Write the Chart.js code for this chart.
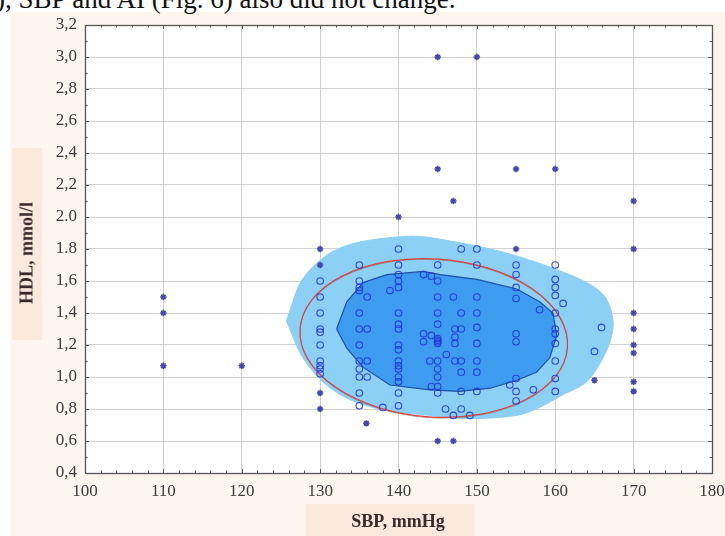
<!DOCTYPE html>
<html>
<head>
<meta charset="utf-8">
<script src="https://cdn.jsdelivr.net/npm/chart.js@4.4.0/dist/chart.umd.min.js"></script>
<style>
  html, body { margin: 0; padding: 0; background: #ffffff; }
  #page { position: relative; width: 725px; height: 536px; overflow: hidden; background: #ffffff; }
  #figure { position: absolute; left: 10px; top: 12px; width: 715px; height: 524px; background: #fdf6ef; }
  #ybox { position: absolute; left: 12px; top: 148px; width: 30px; height: 192px; background: #fce9de; }
  #xbox { position: absolute; left: 306px; top: 504px; width: 168px; height: 32px; background: #fce9de; }
  #topText { position: absolute; left: -4px; top: -16px; font: 27px "Liberation Serif", serif; line-height: 31px; color: #111; white-space: nowrap; }
  #chartWrap { position: absolute; left: 0; top: 0; width: 725px; height: 536px; }
  .axisTitle { position: absolute; font: bold 18px "Liberation Serif", serif; color: #3a2a2a; white-space: nowrap; }
  #yTitle { left: 27px; top: 253px; transform: translate(-50%, -50%) rotate(-90deg); }
  #xTitle { left: 398px; top: 521px; transform: translate(-50%, -50%); }
</style>
</head>
<body>
<div id="page">
  <div id="figure"></div>
  <div id="ybox"></div>
  <div id="xbox"></div>
  <div id="topText">), SBP and AI (Fig. 6) also did not change.</div>
  <div id="chartWrap"><canvas id="scatterChart" width="725" height="536"></canvas></div>
  <div class="axisTitle" id="yTitle">HDL, mmol/l</div>
  <div class="axisTitle" id="xTitle">SBP, mmHg</div>
</div>
<script>
// tick labels
const xTicks = [100, 110, 120, 130, 140, 150, 160, 170, 180];
const yTickLabels = ['0,4', '0,6', '0,8', '1,0', '1,2', '1,4', '1,6', '1.8', '2.0', '2,2', '2,4', '2,6', '2,8', '3,0', '3,2'];

// patients inside the density region (SBP, HDL)
const insidePoints = [
    [130, 1.6], [130, 1.5], [130, 1.4], [130, 1.3], [130, 1.28], [130, 1.2], [130, 1.1], [130, 1.07], [130, 1.05], [130, 1.02],
    [135, 1.7], [135, 1.6], [135, 1.56], [135, 1.54], [135, 1.4], [135, 1.3], [135, 1.2], [135, 1.1], [135, 1.05], [135, 1.0], [135, 0.9], [135, 0.82],
    [136, 1.5], [136, 1.3], [136, 1.1], [136, 1.0], [138.9, 1.54], [138, 0.81],
    [140, 1.8], [140, 1.7], [140, 1.64], [140, 1.6], [140, 1.56], [140, 1.4], [140, 1.33], [140, 1.3], [140, 1.2], [140, 1.17],
    [140, 1.1], [140, 1.07], [140, 1.05], [140, 1.0], [140, 0.97], [140, 0.9], [140, 0.82],
    [143.2, 1.64], [144.2, 1.63], [143.2, 1.27], [143.2, 1.22], [144.2, 1.26], [144, 1.1], [144.2, 0.94],
    [145, 1.7], [145, 1.6], [145, 1.5], [145, 1.4], [145, 1.33], [145, 1.24], [145, 1.23], [145, 1.22], [145, 1.21],
    [145, 1.1], [145, 1.05], [145, 1.0], [145, 0.94], [145, 0.9],
    [146.1, 1.14], [146, 0.8],
    [147, 1.5], [147.2, 1.3], [147.2, 1.25], [147.2, 1.21], [147.2, 1.1], [147, 0.76],
    [148, 1.8], [148, 1.4], [148, 1.3], [148, 1.1], [148, 1.03], [148, 0.91], [148, 0.8], [149.1, 0.76],
    [150, 1.8], [150, 1.7], [150, 1.5], [150, 1.4], [150, 1.31], [150, 1.21], [150, 1.1], [150, 1.03], [150, 0.91],
    [154.2, 0.95], [155, 1.7], [155, 1.64], [155, 1.56], [155, 1.49], [155, 1.27], [155, 1.22], [155, 0.99], [155, 0.91], [155, 0.85],
    [157.2, 0.92], [158, 1.42],
    [160, 1.7], [160, 1.61], [160, 1.56], [160, 1.51], [160, 1.4], [160, 1.3], [160, 1.27], [160, 1.21], [160, 1.1], [160, 0.99], [160, 0.91],
    [161, 1.46], [165.9, 1.31], [165, 1.16]
];

// outlying patients
const outsidePoints = [
    [110, 1.5], [110, 1.4], [110, 1.07], [120, 1.07],
    [130, 1.8], [130, 1.7], [130, 0.9], [130, 0.8], [135.9, 0.71],
    [140, 2.0], [145, 3.0], [150, 3.0], [145, 2.3], [147, 2.1], [155, 2.3], [160, 2.3], [170, 2.1],
    [155, 1.8], [170, 1.8], [170, 1.4], [170, 1.3], [170, 1.2], [170, 1.15], [170, 0.97], [170, 0.91],
    [165, 0.98], [145, 0.6], [147, 0.6]
];

// outer (light) density contour
const outerContour = [
    [125.7, 1.35], [127.6, 1.6], [130.8, 1.76], [134.7, 1.84], [141.9, 1.88], [146.6, 1.85], [153.4, 1.78],
    [159.7, 1.68], [164.4, 1.58], [166.5, 1.49], [167.4, 1.33], [166.5, 1.16], [164.0, 0.97], [161.0, 0.89],
    [158.0, 0.81], [155.1, 0.76], [149.1, 0.74], [144.0, 0.76], [138.5, 0.79], [134.2, 0.85], [130.8, 0.95],
    [127.8, 1.12], [125.7, 1.35]
];

// inner (dark) density contour
const innerContour = [
    [132.1, 1.3], [133.4, 1.47], [135.5, 1.59], [138.5, 1.64], [143.2, 1.66], [145.3, 1.64], [150.0, 1.61],
    [155.1, 1.55], [158.0, 1.47], [159.7, 1.4], [160.2, 1.26], [159.3, 1.12], [157.6, 1.03], [155.1, 0.98],
    [151.7, 0.93], [147.8, 0.91], [144.0, 0.92], [138.9, 0.95], [135.5, 1.06], [133.4, 1.18], [132.1, 1.3]
];

// 95% ellipse: centre, semi-axes (SBP, HDL), tilt in degrees
const ellipseCenter = [144.5, 1.244];
const ellipseRadii = [17.1, 0.494];
const ellipseTilt = 4;

const toXY = arr => arr.map(p => ({ x: p[0], y: p[1] }));

const ellipsePlugin = {
    id: 'ellipse',
    afterDatasetDraw(chart, args) {
        if (args.index !== 1) return;
        const xs = chart.scales.x, ys = chart.scales.y;
        const cx = xs.getPixelForValue(ellipseCenter[0]);
        const cy = ys.getPixelForValue(ellipseCenter[1]);
        const rx = xs.getPixelForValue(ellipseCenter[0] + ellipseRadii[0]) - cx;
        const ry = cy - ys.getPixelForValue(ellipseCenter[1] + ellipseRadii[1]);
        const ctx = chart.ctx;
        ctx.save();
        ctx.beginPath();
        ctx.ellipse(cx, cy + 0.8, rx, ry, ellipseTilt * Math.PI / 180, 0, Math.PI * 2);
        ctx.strokeStyle = 'rgba(120,120,120,0.6)';
        ctx.lineWidth = 1;
        ctx.stroke();
        ctx.beginPath();
        ctx.ellipse(cx, cy, rx, ry, ellipseTilt * Math.PI / 180, 0, Math.PI * 2);
        ctx.strokeStyle = '#e0403a';
        ctx.lineWidth = 1.2;
        ctx.stroke();
        ctx.restore();
    }
};

const framePlugin = {
    id: 'frame',
    beforeDatasetsDraw(chart) {
        const a = chart.chartArea, ctx = chart.ctx;
        const xs = chart.scales.x, ys = chart.scales.y;
        ctx.save();
        ctx.strokeStyle = '#5a5a5a';
        ctx.lineWidth = 1;
        ctx.beginPath();
        for (let v = 100; v <= 180; v += 2) {
            const px = Math.round(xs.getPixelForValue(v)) + 0.5;
            const len = v % 10 === 0 ? 4 : 2.5;
            ctx.moveTo(px, a.bottom); ctx.lineTo(px, a.bottom - len);
            ctx.moveTo(px, a.top); ctx.lineTo(px, a.top + len);
        }
        for (let i = 0; i <= 28; i++) {
            const py = Math.round(ys.getPixelForValue(0.4 + i * 0.1)) + 0.5;
            const len = i % 2 === 0 ? 4 : 2.5;
            ctx.moveTo(a.left, py); ctx.lineTo(a.left + len, py);
            ctx.moveTo(a.right, py); ctx.lineTo(a.right - len, py);
        }
        ctx.stroke();
        ctx.restore();
    },
    afterDraw(chart) {
        const a = chart.chartArea, ctx = chart.ctx;
        ctx.save();
        ctx.strokeStyle = '#555555';
        ctx.lineWidth = 1.3;
        ctx.strokeRect(Math.round(a.left) + 0.5, Math.round(a.top) + 0.5, Math.round(a.right - a.left), Math.round(a.bottom - a.top));
        ctx.restore();
    }
};

const plotBg = {
    id: 'plotBg',
    beforeDraw(chart) {
        const a = chart.chartArea, ctx = chart.ctx;
        ctx.save();
        ctx.fillStyle = '#ffffff';
        ctx.fillRect(a.left, a.top, a.right - a.left, a.bottom - a.top);
        ctx.restore();
    }
};

const tickFont = { family: '"Liberation Serif", serif', size: 17 };

new Chart(document.getElementById('scatterChart').getContext('2d'), {
    type: 'scatter',
    data: {
        datasets: [
            {
                label: 'inside',
                data: toXY(insidePoints),
                pointStyle: 'circle',
                pointRadius: 3.3,
                borderColor: 'rgba(35,55,215,0.9)',
                backgroundColor: 'rgba(0,0,0,0)',
                borderWidth: 1.1,
                order: 0
            },
            {
                label: 'inner',
                type: 'line',
                data: toXY(innerContour),
                showLine: true,
                fill: 'shape',
                tension: 0,
                pointRadius: 0,
                borderColor: '#1f4ea6',
                borderWidth: 1.2,
                backgroundColor: '#3d9bf0',
                order: 2
            },
            {
                label: 'outer',
                type: 'line',
                data: toXY(outerContour),
                showLine: true,
                fill: 'shape',
                tension: 0.3,
                pointRadius: 0,
                borderColor: '#8dd0f6',
                borderWidth: 1,
                backgroundColor: '#8dd0f6',
                order: 3
            },
            {
                label: 'outside',
                data: toXY(outsidePoints),
                pointStyle: 'star',
                pointRadius: 3.2,
                borderColor: '#4646b0',
                backgroundColor: '#4646b0',
                borderWidth: 1.6,
                order: 1
            }
        ]
    },
    options: {
        responsive: false,
        animation: false,
        events: [],
        layout: { padding: { top: 25, right: 13, left: 0, bottom: 0 } },
        plugins: {
            legend: { display: false },
            tooltip: { enabled: false }
        },
        scales: {
            x: {
                type: 'linear',
                min: 100,
                max: 180,
                afterFit: s => { s.height = 63; s.paddingLeft = 0; s.paddingRight = 0; },
                afterBuildTicks: s => { s.ticks = xTicks.map(v => ({ value: v })); },
                ticks: { font: tickFont, color: '#3c3c3c', padding: 8 },
                grid: { color: '#d2d2d2', lineWidth: 1, drawTicks: false },
                border: { display: false }
            },
            y: {
                type: 'linear',
                min: 0.4,
                max: 3.2,
                afterFit: s => { s.width = 85; s.paddingTop = 0; s.paddingBottom = 0; },
                afterBuildTicks: s => { s.ticks = yTickLabels.map((t, i) => ({ value: 0.4 + i * 0.2 })); },
                ticks: {
                    font: tickFont,
                    color: '#3c3c3c',
                    padding: 8,
                    callback: (v, i) => yTickLabels[i]
                },
                grid: { color: '#d2d2d2', lineWidth: 1, drawTicks: false },
                border: { display: false }
            }
        }
    },
    plugins: [plotBg, framePlugin, ellipsePlugin]
});
</script>
</body>
</html>
